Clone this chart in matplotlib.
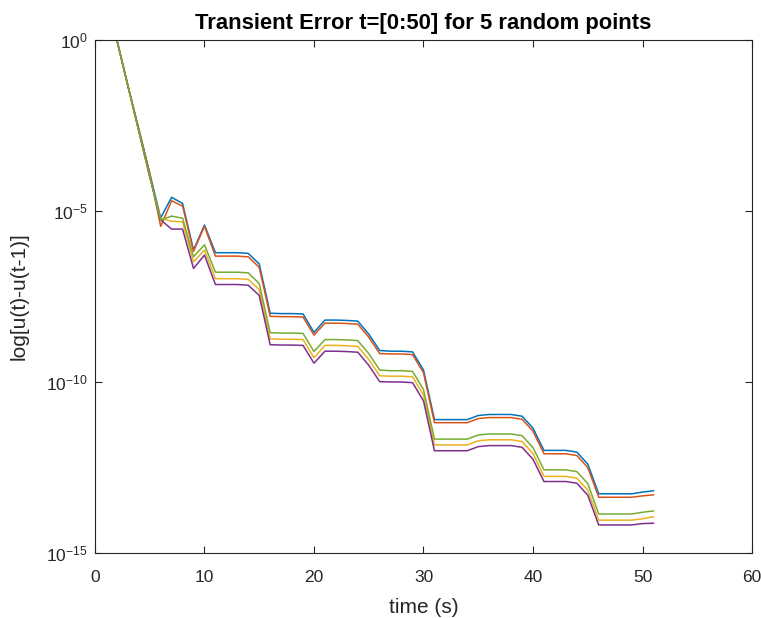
import numpy as np
import matplotlib
matplotlib.use('Agg')
import matplotlib.pyplot as plt
from matplotlib.ticker import FixedLocator, NullLocator, LogFormatterSciNotation

plt.rcParams['font.family'] = ['Liberation Sans', 'DejaVu Sans']
plt.rcParams['mathtext.fontset'] = 'custom'
plt.rcParams['mathtext.rm'] = 'Liberation Sans'
plt.rcParams['mathtext.default'] = 'regular'

# time steps
t = list(range(1, 52))

# log10 of the error
blue = [1.34, 0.0, -1.33, -2.6, -3.9, -5.2, -4.6, -4.78, -6.14, -5.41,
        -6.22, -6.22, -6.22, -6.24, -6.55, -7.99, -8.0, -8.0, -8.01, -8.55,
        -8.19, -8.19, -8.2, -8.22, -8.6, -9.08, -9.1, -9.1, -9.12, -9.65,
        -11.1, -11.1, -11.1, -11.1, -10.98, -10.95, -10.95, -10.95, -11.0, -11.35,
        -12.0, -12.0, -12.0, -12.05, -12.4, -13.27, -13.27, -13.27, -13.27, -13.22,
        -13.18]
orange = [1.34, 0.0, -1.33, -2.6, -3.9, -5.45, -4.7, -4.86, -6.18, -5.45,
          -6.32, -6.32, -6.32, -6.34, -6.65, -8.08, -8.09, -8.09, -8.1, -8.63,
          -8.28, -8.28, -8.29, -8.31, -8.69, -9.17, -9.18, -9.18, -9.2, -9.73,
          -11.19, -11.19, -11.19, -11.19, -11.07, -11.04, -11.04, -11.04, -11.09, -11.44,
          -12.1, -12.1, -12.1, -12.15, -12.5, -13.37, -13.37, -13.37, -13.37, -13.33,
          -13.3]
yellow = [1.34, 0.0, -1.33, -2.66, -4.0, -5.22, -5.3, -5.32, -6.49, -6.14,
          -6.98, -6.98, -6.98, -7.0, -7.3, -8.74, -8.75, -8.75, -8.76, -9.29,
          -8.93, -8.93, -8.94, -8.96, -9.34, -9.82, -9.83, -9.83, -9.85, -10.38,
          -11.84, -11.84, -11.84, -11.84, -11.72, -11.69, -11.69, -11.69, -11.74, -12.09,
          -12.76, -12.76, -12.76, -12.81, -13.16, -14.04, -14.04, -14.04, -14.04, -14.0,
          -13.94]
purple = [1.34, 0.0, -1.33, -2.66, -4.0, -5.26, -5.53, -5.53, -6.68, -6.29,
          -7.15, -7.15, -7.15, -7.17, -7.47, -8.91, -8.92, -8.92, -8.93, -9.45,
          -9.1, -9.1, -9.11, -9.13, -9.51, -9.99, -10.0, -10.0, -10.02, -10.55,
          -12.01, -12.01, -12.01, -12.01, -11.89, -11.86, -11.86, -11.86, -11.91, -12.26,
          -12.91, -12.91, -12.91, -12.96, -13.31, -14.18, -14.18, -14.18, -14.18, -14.14,
          -14.13]
green = [1.34, 0.0, -1.33, -2.66, -4.0, -5.26, -5.15, -5.21, -6.34, -5.99,
         -6.79, -6.79, -6.79, -6.81, -7.12, -8.56, -8.57, -8.57, -8.58, -9.11,
         -8.76, -8.76, -8.77, -8.79, -9.17, -9.65, -9.67, -9.67, -9.69, -10.22,
         -11.67, -11.67, -11.67, -11.67, -11.55, -11.52, -11.52, -11.52, -11.57, -11.92,
         -12.57, -12.57, -12.57, -12.62, -12.97, -13.86, -13.86, -13.86, -13.86, -13.81,
         -13.77]

series = [blue, orange, yellow, purple, green]
colors = ['#0072BD', '#D95319', '#EDB120', '#7E2F8E', '#77AC30']

fig = plt.figure(figsize=(7.61, 6.18), dpi=100)
ax = fig.add_axes([0.1248, 0.1052, 0.8634, 0.8301])

for s, c in zip(series, colors):
    ax.semilogy(t, 10.0 ** np.array(s), color=c, lw=1.1)

ax.set_xlim(0, 60)
ax.set_ylim(1e-15, 1e0)
ax.set_xticks([0, 10, 20, 30, 40, 50, 60])
ax.yaxis.set_major_locator(FixedLocator([1e-15, 1e-10, 1e-5, 1e0]))
ax.yaxis.set_major_formatter(LogFormatterSciNotation())
ax.yaxis.set_minor_locator(NullLocator())

axcol = '#262626'
for sp in ax.spines.values():
    sp.set_color(axcol)
    sp.set_linewidth(0.8)
ax.tick_params(direction='in', top=True, right=True, length=5, width=0.8,
               colors=axcol, labelsize=12.5)
ax.tick_params(axis='x', pad=12)
ax.tick_params(axis='y', pad=5)

ax.set_title('Transient Error t=[0:50] for 5 random points', fontsize=15.8,
             fontweight='bold', color='black', pad=8)
ax.set_xlabel('time (s)', fontsize=15, color=axcol)
ax.set_ylabel('log[u(t)-u(t-1)]', fontsize=15, color=axcol)
ax.xaxis.set_label_coords(0.5, -0.087)
ax.yaxis.set_label_coords(-0.101, 0.5)

fig.savefig('out.png', dpi=100, facecolor='white')
